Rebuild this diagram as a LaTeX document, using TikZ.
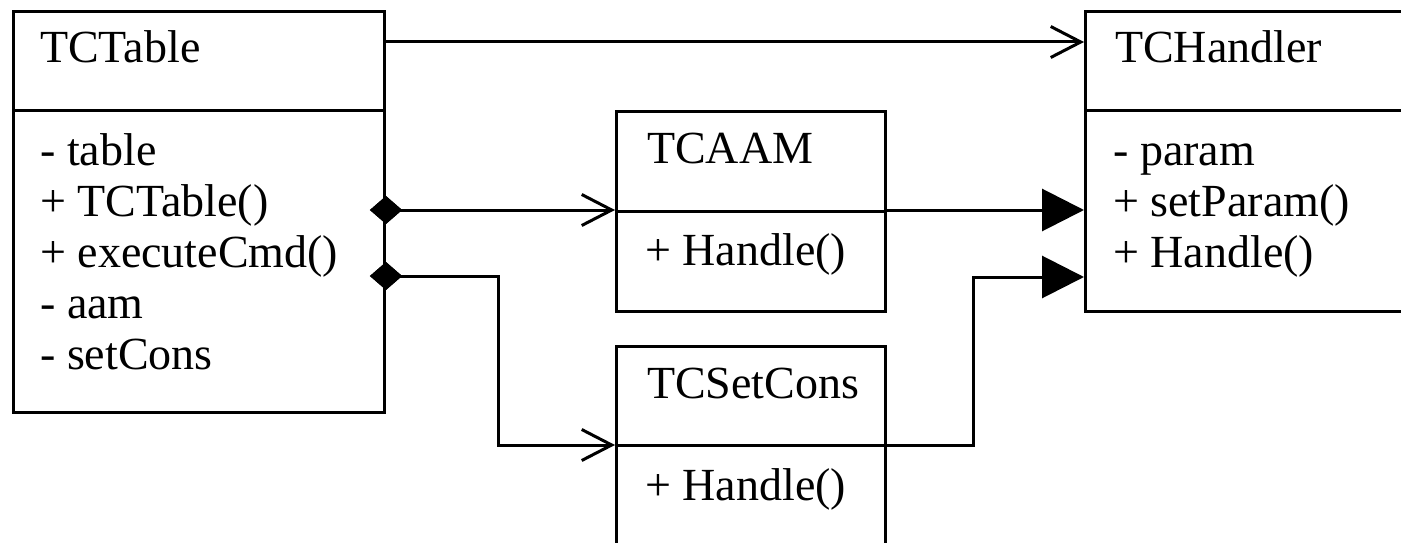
\documentclass[tikz,border=0pt]{standalone}
\usepackage{fontspec}
\setmainfont{Liberation Serif}
\usetikzlibrary{arrows.meta,shapes.geometric}

\tikzset{
  umlbox/.style={draw, line width=3pt, inner sep=0pt, anchor=north west},
  sep/.style={line width=3pt},
  txt/.style={inner sep=0pt, anchor=base west, font=\fontsize{46pt}{51pt}\selectfont},
  conn/.style={line width=3pt},
  assoc/.style={conn, -{Straight Barb[length=30pt,width=31pt,line width=3pt]}},
  impl/.style={conn, -{Triangle[length=42pt,width=42pt]}},
  agg/.style={diamond, fill=black, draw=black, line width=1pt, inner sep=0pt, minimum width=31pt, minimum height=27pt},
}

\begin{document}
\begin{tikzpicture}[x=1pt,y=-1pt]
  \useasboundingbox (0,0) rectangle (1401,543);
  \clip (0,0) rectangle (1401,543);

  % class boxes
  \node[umlbox, minimum width=371pt, minimum height=401pt] (table) at (12,10) {};
  \node[umlbox, minimum width=340pt, minimum height=300pt] (handler) at (1084,10) {};
  \node[umlbox, minimum width=269pt, minimum height=200pt] (aam) at (615,110) {};
  \node[umlbox, minimum width=269pt, minimum height=230pt] (setcons) at (615,345) {};

  % compartment separators
  \draw[sep] (table.west |- 0,110) -- (table.east |- 0,110);
  \draw[sep] (handler.west |- 0,110) -- (handler.east |- 0,110);
  \draw[sep] (aam.west |- 0,211) -- (aam.east |- 0,211);
  \draw[sep] (setcons.west |- 0,445) -- (setcons.east |- 0,445);

  % TCTable
  \node[txt] (tname) at (40,63) {TCTable};
  \node[txt] (t1) at (40,165) {- table};
  \node[txt] (t2) at (40,216) {+ TCTable()};
  \node[txt] (t3) at (40,267) {+ executeCmd()};
  \node[txt] (t4) at (40,318) {- aam};
  \node[txt] (t5) at (40,369) {- setCons};

  % TCHandler
  \node[txt] (hname) at (1115,63) {TCHandler};
  \node[txt] (h1) at (1113,165) {- param};
  \node[txt] (h2) at (1113,216) {+ setParam()};
  \node[txt] (h3) at (1113,267) {+ Handle()};

  % TCAAM
  \node[txt] (aname) at (647,163) {TCAAM};
  \node[txt] (a1) at (645,265) {+ Handle()};

  % TCSetCons
  \node[txt] (sname) at (647,398) {TCSetCons};
  \node[txt] (s1) at (645,500) {+ Handle()};

  % aggregation diamonds on TCTable
  \node[agg] (d1) at (table.east |- 0,210) {};
  \node[agg] (d2) at (table.east |- 0,276) {};

  % bend points
  \coordinate (b1) at (498,276);
  \coordinate (b2) at (498,445);
  \coordinate (b3) at (973,445);
  \coordinate (b4) at (973,277);

  % connectors
  \draw[assoc] (table.east |- 0,42) -- (handler.west |- 0,42);
  \draw[assoc] (d1.center) -- (aam.west |- d1.center);
  \draw[impl] (aam.east |- 0,210) -- (handler.west |- 0,210);
  \draw[assoc] (d2.center) -- (b1) -- (b2) -- (setcons.west |- b2);
  \draw[impl] (setcons.east |- b3) -- (b3) -- (b4) -- (handler.west |- b4);

  % redraw diamonds on top of the lines
  \node[agg] at (d1) {};
  \node[agg] at (d2) {};
\end{tikzpicture}
\end{document}
